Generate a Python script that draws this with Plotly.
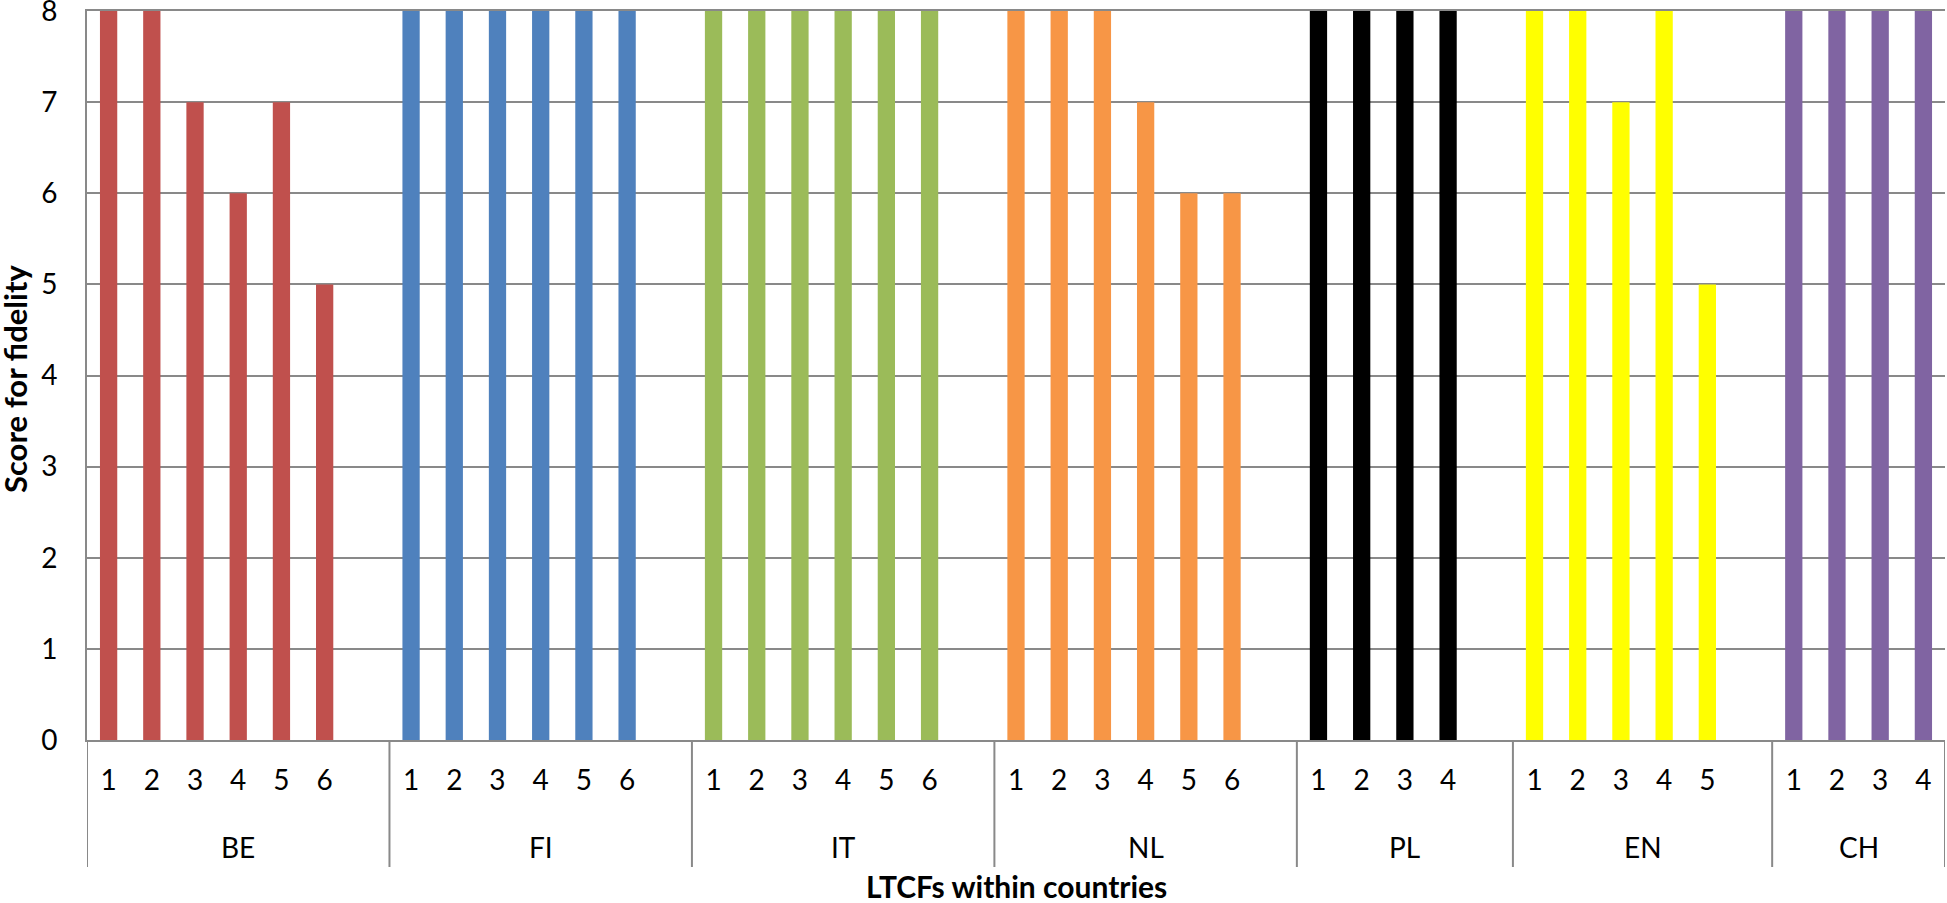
import plotly.graph_objects as go

countries = ["BE", "FI", "IT", "NL", "PL", "EN", "CH"]
colors = ["#C0504D", "#4F81BD", "#9BBB59", "#F79646", "#000000", "#FFFF00", "#8064A2"]
scores = {
    "BE": [8, 8, 7, 6, 7, 5],
    "FI": [8, 8, 8, 8, 8, 8],
    "IT": [8, 8, 8, 8, 8, 8],
    "NL": [8, 8, 8, 7, 6, 6],
    "PL": [8, 8, 8, 8],
    "EN": [8, 8, 7, 8, 5],
    "CH": [8, 8, 8, 8],
}
# trailing empty slot after every country except the last (as in the original)
has_gap = [True, True, True, True, True, True, False]
y_ticks = [0, 1, 2, 3, 4, 5, 6, 7, 8]

FONT = "Lato"
GRID = "#898989"

# figure / plot-area geometry (pixels)
W, H = 1947, 903
L, R, T, B = 87, 2, 11, 163
plot_h = H - T - B
plot_w = W - L - R


def py(pix):
    """pixel row -> paper y"""
    return (H - B - pix) / plot_h


def px(pix):
    """pixel column -> paper x"""
    return (pix - L) / plot_w


fig = go.Figure()
tickvals, ticktext = [], []
boundaries = [-0.5]
centers = []
pos = 0
for c, col, gap in zip(countries, colors, has_gap):
    vals = scores[c]
    xs = list(range(pos, pos + len(vals)))
    fig.add_trace(go.Bar(
        x=xs, y=vals, marker=dict(color=col, line=dict(width=0)),
        width=0.4, showlegend=False, name=c,
    ))
    tickvals += xs
    ticktext += [str(i + 1) for i in range(len(vals))]
    n_slots = len(vals) + (1 if gap else 0)
    start = pos - 0.5
    end = pos + n_slots - 0.5
    centers.append((start + end) / 2)
    boundaries.append(end)
    pos += n_slots

shapes = [
    dict(type="line", xref="x", yref="paper", x0=b, x1=b, y0=0, y1=py(867),
         line=dict(color=GRID, width=2))
    for b in boundaries
]
annotations = [
    dict(text=c, x=xc, xref="x", y=py(847), yref="paper", showarrow=False,
         xanchor="center", yanchor="middle", font=dict(family=FONT, size=28, color="black"))
    for c, xc in zip(countries, centers)
]
annotations.append(dict(
    text="<b>LTCFs within countries</b>", x=0.5, xref="paper", y=py(886), yref="paper",
    showarrow=False, xanchor="center", yanchor="middle",
    font=dict(family=FONT, size=30, color="black")))
annotations.append(dict(
    text="<b>Score for fidelity</b>", x=px(15), xref="paper",
    y=py(379), yref="paper", showarrow=False, textangle=-90,
    xanchor="center", yanchor="middle",
    font=dict(family=FONT, size=31, color="black")))

fig.update_layout(
    width=W, height=H,
    margin=dict(l=L, r=R, t=T, b=B),
    paper_bgcolor="white", plot_bgcolor="white",
    barmode="overlay",
    font=dict(family=FONT, color="black"),
    shapes=shapes, annotations=annotations,
)
fig.update_xaxes(
    range=[-0.5, pos - 0.5], automargin=False,
    tickvals=tickvals, ticktext=ticktext, ticks="",
    showline=True, linecolor=GRID, linewidth=2, mirror=True,
    showgrid=False, zeroline=False,
    tickfont=dict(family=FONT, size=28, color="black"),
    ticklabelstandoff=14,
)
fig.update_yaxes(
    range=[0, 8], tickvals=y_ticks, automargin=False,
    showline=True, linecolor=GRID, linewidth=2,
    showgrid=True, gridcolor=GRID, gridwidth=2,
    zeroline=False, ticks="",
    tickfont=dict(family=FONT, size=28, color="black"),
    ticklabelstandoff=22, ticklabeloverflow="allow",
)

fig.write_html("out.html", config={"displayModeBar": False},
               post_script="document.body.style.margin='0';")
